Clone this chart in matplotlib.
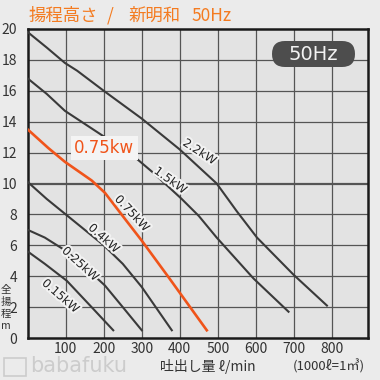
import matplotlib
matplotlib.use("Agg")
import matplotlib.pyplot as plt
import matplotlib.patheffects as pe
from matplotlib.patches import FancyBboxPatch, Rectangle

plt.rcParams['font.family'] = ['Noto Sans CJK JP', 'DejaVu Sans']

# flow (l/min) and head (m), one pair of lists per pump
x_22 = [0, 50, 98, 130, 200, 300, 400, 497, 550, 603, 699, 787]
h_22 = [19.8, 18.8, 17.8, 17.3, 16.0, 14.2, 12.2, 10.0, 8.2, 6.5, 4.1, 2.1]
x_15 = [0, 50, 98, 203, 282, 330, 405, 450, 497, 594, 686]
h_15 = [16.8, 15.8, 14.7, 13.0, 11.7, 10.7, 9.0, 7.9, 6.5, 3.85, 1.7]
x_075 = [0, 54, 98, 168, 203, 256, 300, 370, 471]
h_075 = [13.5, 12.3, 11.4, 10.2, 9.4, 7.7, 6.3, 3.95, 0.5]
x_04 = [0, 50, 100, 150, 200, 250, 300, 379]
h_04 = [10.1, 9.0, 8.0, 7.0, 6.0, 4.8, 3.3, 0.5]
x_025 = [0, 45, 103, 150, 203, 250, 300]
h_025 = [7.0, 6.5, 5.6, 4.6, 3.4, 2.0, 0.5]
x_015 = [0, 45, 103, 168, 225]
h_015 = [5.6, 4.8, 3.7, 2.0, 0.5]

xticks = [100, 200, 300, 400, 500, 600, 700, 800]
yticks = [0, 2, 4, 6, 8, 10, 12, 14, 16, 18, 20]

W = 380.0

fig = plt.figure(figsize=(3.8, 3.8), dpi=100, facecolor="#ebebeb")
ax = fig.add_axes([27.7 / W, 1 - 338 / W, (368 - 27.7) / W, 309 / W])
ax.set_facecolor("#e3e3e3")
ax.set_xlim(0, 895)
ax.set_ylim(0, 20)

# grid
for gx in xticks:
    ax.axvline(gx, color="#555555", lw=0.9, zorder=1)
for gy in yticks[1:-1]:
    ax.axhline(gy, color="#555555", lw=1.6 if gy == 10 else 0.9, zorder=1)

for s in ax.spines.values():
    s.set_linewidth(1.8)
    s.set_color("#1a1a1a")

ax.set_xticks(xticks)
ax.set_yticks(yticks)
ax.tick_params(length=0, labelsize=10, colors="#333333")
ax.tick_params(axis="x", pad=3)
ax.tick_params(axis="y", pad=7.5)

dark = "#3a3a3a"
ax.plot(x_22, h_22, color=dark, lw=1.5, zorder=3)
ax.plot(x_15, h_15, color=dark, lw=1.5, zorder=3)
ax.plot(x_04, h_04, color=dark, lw=1.5, zorder=3)
ax.plot(x_025, h_025, color=dark, lw=1.5, zorder=3)
ax.plot(x_015, h_015, color=dark, lw=1.5, zorder=3)
ax.plot(x_075, h_075, color="#f0541a", lw=1.9, zorder=4)

halo = [pe.withStroke(linewidth=3, foreground="#f2f2f2")]
labels = [("2.2kW", 452, 12.05, -33), ("1.5kW", 375, 10.2, -36),
          ("0.75kW", 274, 8.07, -47), ("0.4kW", 200, 6.45, -42),
          ("0.25kW", 138, 4.8, -42), ("0.15kW", 86, 2.72, -41)]
for txt, lx, ly, rot in labels:
    ax.text(lx, ly, txt, rotation=rot, ha="center", va="center", fontsize=8.5,
            color="#222222", path_effects=halo, zorder=5,
            family=["DejaVu Sans"])

ax.text(201, 12.3, "0.75kw", ha="center", va="center", fontsize=12,
        color="#f0541a", zorder=6, family=["DejaVu Sans"],
        bbox=dict(boxstyle="square,pad=0.2", fc="#f4f4f4", ec="none"))

# 50Hz badge
fig.add_artist(FancyBboxPatch((272 / W, 1 - 67 / W), 83 / W, 26 / W,
                              boxstyle="round,pad=0,rounding_size=0.034",
                              fc="#4d4d4d", ec="none", transform=fig.transFigure))
fig.text(313.5 / W, 1 - 54.5 / W, "50Hz", ha="center", va="center", fontsize=14,
         color="#f2f2f2", family=["DejaVu Sans"])

orange = "#f47b20"
ty = 1 - 16 / W
fig.text(29 / W, ty, "揚程高さ", ha="left", va="center", fontsize=12.5, color=orange)
fig.text(110 / W, ty, "/", ha="center", va="center", fontsize=12.5, color=orange)
fig.text(128 / W, ty, "新明和", ha="left", va="center", fontsize=12.5, color=orange)
fig.text(191 / W, ty, "50Hz", ha="left", va="center", fontsize=12.5, color=orange)

fig.text(5.5 / W, 1 - 308 / W, "全\n揚\n程\nm", ha="center", va="center",
         fontsize=7.5, color="#333333", linespacing=1.25)
fig.text(160 / W, 1 - 366 / W, "吐出し量 ℓ/min", ha="left", va="center",
         fontsize=10, color="#333333")
fig.text(293 / W, 1 - 366 / W, "(1000ℓ=1㎥)", ha="left", va="center",
         fontsize=9.5, color="#333333")

# watermark
fig.add_artist(Rectangle((4 / W, 1 - 376 / W), 22 / W, 18 / W, fill=False,
                         ec="#cccccc", lw=1.2, transform=fig.transFigure))
fig.text(30 / W, 1 - 366 / W, "babafuku", ha="left", va="center",
         fontsize=15, color="#cccccc", family=["DejaVu Sans"])

fig.savefig("out.png", dpi=100, facecolor=fig.get_facecolor())
